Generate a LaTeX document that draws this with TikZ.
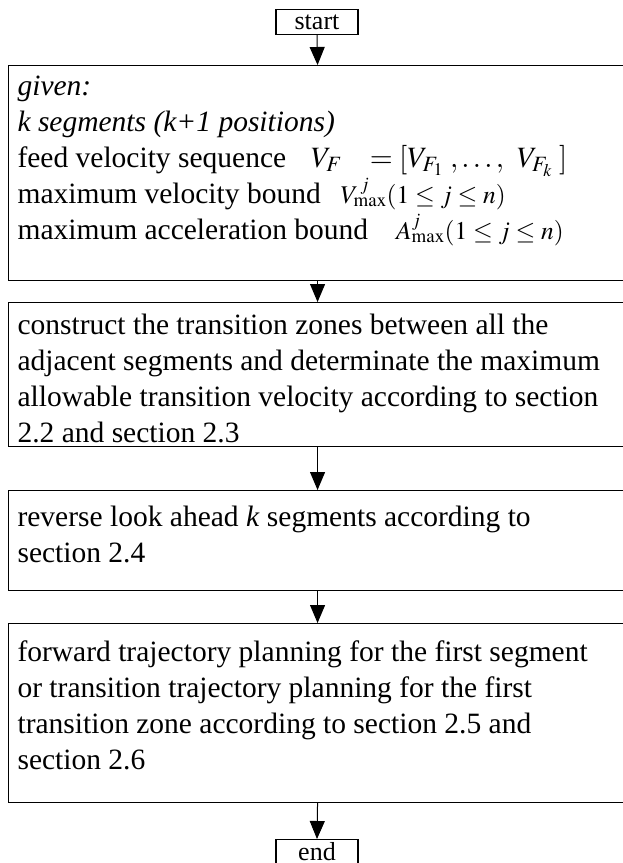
\documentclass[tikz,border=0pt]{standalone}
\usepackage{mathptmx}
\usepackage{fontspec}
\setmainfont{Liberation Serif}
\usetikzlibrary{arrows.meta,positioning}

\tikzset{
  stepbox/.style={draw, line width=1.1pt, anchor=north west, inner xsep=9pt,
    inner ysep=0pt, font=\fontsize{29.5}{36}\selectfont},
  termbox/.style={draw, line width=1.1pt, anchor=north, minimum width=82pt,
    minimum height=25pt, inner sep=0pt, font=\fontsize{26}{26}\selectfont},
  flow/.style={line width=1pt, -{Triangle[length=18pt,width=15pt]}}
}
% top aligned text of a box: height, space above, lines
\newcommand{\boxtext}[3]{\parbox[c][#1][t]{600pt}{\raggedright\vspace{#2}#3}}
\newcommand{\smallmath}[1]{{\fontsize{25.5}{30}\selectfont$#1$}}

\begin{document}
\begin{tikzpicture}[x=1pt,y=1pt]
\useasboundingbox (0,0) rectangle (623,-863);
\node[termbox] (start) at (317,-9) {start};
% input data
\node[stepbox] (given) at (8,-65)
  {\boxtext{215pt}{10pt}{\itshape given:\\
   k segments (k+1 positions)\\
   \upshape feed velocity sequence\hspace{25pt}$V_{F}\ \ \;=[V_{F_1}\;,\ldots,\;\,V_{F_k}\;]$\\
   maximum velocity bound\hspace{20pt}\smallmath{V^{\,j}_{\max}(1\leq j\leq n)}\\
   maximum acceleration bound\hspace{28pt}\smallmath{A^{j}_{\max}(1\leq j\leq n)}}};
\node[stepbox] (zones) at (8,-302)
  {\boxtext{144pt}{11pt}{construct the transition zones between all the\\
   adjacent segments and determinate the maximum\\
   allowable transition velocity according to section\\
   2.2 and section 2.3}};
\node[stepbox] (ahead) at (8,-490)
  {\boxtext{100pt}{15pt}{reverse look ahead \textit{k} segments according to\\
   section 2.4}};
\node[stepbox] (plan) at (8,-623)
  {\boxtext{179pt}{17pt}{forward trajectory planning for the first segment\\
   or transition trajectory planning for the first\\
   transition zone according to section 2.5 and\\
   section 2.6}};
\node[termbox] (end) at (317,-839) {end};

\draw[flow] (start.south) -- (given.north);
\draw[flow] (given.south) -- (zones.north);
\draw[flow] (zones.south) -- (ahead.north);
\draw[flow] (ahead.south) -- (plan.north);
\draw[flow] (plan.south) -- (end.north);
\end{tikzpicture}
\end{document}
